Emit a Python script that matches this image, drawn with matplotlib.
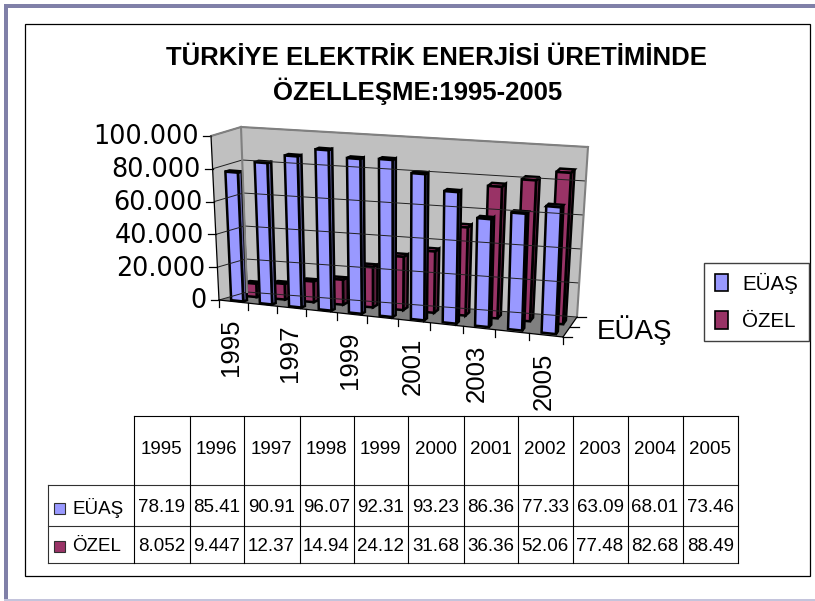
import matplotlib
matplotlib.use("Agg")
import matplotlib.pyplot as plt
from matplotlib.patches import Patch, Polygon, Rectangle

years = [1995, 1996, 1997, 1998, 1999, 2000, 2001, 2002, 2003, 2004, 2005]
euas = [78.19, 85.41, 90.91, 96.07, 92.31, 93.23, 86.36, 77.33, 63.09, 68.01, 73.46]
ozel = [8.052, 9.447, 12.37, 14.94, 24.12, 31.68, 36.36, 52.06, 77.48, 82.68, 88.49]
y_ticks = [0, 20, 40, 60, 80, 100]
y_labels = ["0", "20.000", "40.000", "60.000", "80.000", "100.000"]
series_names = ["EÜAŞ", "ÖZEL"]

SANS = ["Liberation Sans", "DejaVu Sans"]
BLUE, BLUE_SIDE = "#9999ff", "#5c5c99"
RED, RED_SIDE = "#993366", "#5c1f3d"

# corners of the 3d box in picture pixels: [x end][value end][depth end]
corners = {
    (0, 0, 0): (219, 300), (1, 0, 0): (563, 337),
    (0, 1, 0): (211, 136), (1, 1, 0): (570, 164),
    (0, 0, 1): (247, 292), (1, 0, 1): (577, 317),
    (0, 1, 1): (241, 127), (1, 1, 1): (588, 147),
}


def pt(i, val, z):
    # category position, value, depth (0 front, 1 back) -> picture position
    t = i / len(years)
    t = t / (t + 1.1 * (1 - t))
    v = val / 100.0
    px, py = 0, 0
    for a, wa in ((0, 1 - t), (1, t)):
        for b, wb in ((0, 1 - v), (1, v)):
            for c, wc in ((0, 1 - z), (1, z)):
                px += wa * wb * wc * corners[(a, b, c)][0]
                py += wa * wb * wc * corners[(a, b, c)][1]
    return px, py


def draw_bar(ax, i, val, z0, z1, col, side):
    x0, x1 = i + 0.33, i + 0.75
    style = dict(edgecolor="black", linewidth=1.8, joinstyle="miter")
    ax.add_patch(Polygon([pt(x1, 0, z0), pt(x1, 0, z1), pt(x1, val, z1), pt(x1, val, z0)],
                         facecolor=side, **style))
    ax.add_patch(Polygon([pt(x0, val, z0), pt(x1, val, z0), pt(x1, val, z1), pt(x0, val, z1)],
                         facecolor=col, **style))
    ax.add_patch(Polygon([pt(x0, 0, z0), pt(x1, 0, z0), pt(x1, val, z0), pt(x0, val, z0)],
                         facecolor=col, **style))


fig = plt.figure(figsize=(8.15, 6.01), dpi=100)
ax = fig.add_axes([0, 0, 1, 1])
ax.set_xlim(0, 815)
ax.set_ylim(601, 0)
ax.axis("off")

# slide decoration and chart frame
ax.add_patch(Rectangle((4, 4), 811, 4, facecolor="#8080a8", edgecolor="none"))
ax.add_patch(Rectangle((4, 4), 4, 597, facecolor="#8080a8", edgecolor="none"))
ax.add_patch(Rectangle((4, 599), 811, 2, facecolor="#c4c4dc", edgecolor="none"))
ax.add_patch(Rectangle((25, 24), 785, 552, facecolor="white", edgecolor="black", linewidth=0.9))

ax.text(436, 58, "TÜRKİYE ELEKTRİK ENERJİSİ ÜRETİMİNDE", ha="center", va="center",
        fontsize=18.5, fontweight="bold", family=SANS)
ax.text(417.5, 91, "ÖZELLEŞME:1995-2005", ha="center", va="center",
        fontsize=18.5, fontweight="bold", family=SANS)

# walls and floor
n = len(years)
ax.add_patch(Polygon([pt(0, 0, 0), pt(0, 100, 0), pt(0, 100, 1), pt(0, 0, 1)],
                     facecolor="#c0c0c0", edgecolor="none"))
ax.add_patch(Polygon([pt(0, 0, 1), pt(0, 100, 1), pt(n, 100, 1), pt(n, 0, 1)],
                     facecolor="#c0c0c0", edgecolor="none"))
ax.add_patch(Polygon([pt(0, 0, 0), pt(0, 0, 1), pt(n, 0, 1), pt(n, 0, 0)],
                     facecolor="#808080", edgecolor="none"))
for tick, lab in zip(y_ticks, y_labels):
    ax.plot(*zip(pt(0, tick, 0), pt(0, tick, 1), pt(n, tick, 1)), color="#202020", lw=0.7)
    x, y = pt(0, tick, 0)
    ax.plot([x - 8, x], [y, y], color="black", lw=0.9)
    ax.text(x - 12, y + 1.5, lab, ha="right", va="center", fontsize=18.4, family=["DejaVu Sans"])
for a, b in ((pt(0, 100, 0), pt(0, 100, 1)), (pt(0, 100, 1), pt(n, 100, 1)),
             (pt(n, 100, 1), pt(n, 0, 1)), (pt(0, 100, 1), pt(0, 0, 1))):
    ax.plot(*zip(a, b), color="#808080", lw=1.5)

# bars, back row first
for i in range(n):
    draw_bar(ax, i, ozel[i], 0.6, 0.8, RED, RED_SIDE)
for i in range(n):
    draw_bar(ax, i, euas[i], 0.1, 0.24, BLUE, BLUE_SIDE)

# axes lines
ax.plot(*zip(pt(0, 0, 0), pt(0, 100, 0)), color="black", lw=0.9)
ax.plot(*zip(pt(0, 0, 0), pt(n, 0, 0)), color="black", lw=0.9)
ax.plot(*zip(pt(n, 0, 0), pt(n, 0, 1)), color="black", lw=0.9)
for i in range(n + 1):
    x, y = pt(i, 0, 0)
    ax.plot([x, x], [y, y + 7], color="black", lw=0.9)
for i in range(0, n, 2):
    x, y = pt(i + 0.5, 0, 0)
    ax.text(x - 2, y + 17, str(years[i]), rotation=90, ha="center", va="top",
            fontsize=18.5, family=SANS)
for z in (0, 0.5, 1):
    x, y = pt(n, 0, z)
    ax.plot([x, x + 9], [y, y], color="black", lw=0.9)
ax.text(597, 330, "EÜAŞ", ha="left", va="center", fontsize=20, family=SANS)

# legend
handles = [Patch(facecolor=BLUE, edgecolor="black", linewidth=1.2),
           Patch(facecolor=RED, edgecolor="black", linewidth=1.2)]
leg = ax.legend(handles, series_names, loc="center", bbox_to_anchor=(756.5, 302),
                bbox_transform=ax.transData, fancybox=False, framealpha=1, edgecolor="#404040",
                prop={"family": SANS, "size": 14.8}, handlelength=0.65, handleheight=0.9,
                labelspacing=0.85, handletextpad=0.7, borderpad=0.5, borderaxespad=0)

# data table
col_x = [133.5, 189.5, 243.5, 299.5, 353.5, 407.5, 463.5, 518, 572.5, 627.5, 682.5, 738]
row_y = [416, 485, 526, 563]
ax.plot([col_x[0], col_x[-1]], [row_y[0], row_y[0]], color="black", lw=0.8)
for y in row_y[1:]:
    ax.plot([47.5, col_x[-1]], [y, y], color="#303030", lw=0.8)
ax.plot([47.5, 47.5], [row_y[1], row_y[3]], color="#303030", lw=0.8)
for x in col_x:
    ax.plot([x, x], [row_y[0], row_y[3]], color="black", lw=0.8)
for j, yr in enumerate(years):
    cx = (col_x[j] + col_x[j + 1]) / 2
    ax.text(cx, 449, str(yr), ha="center", va="center", fontsize=13.5, family=SANS)
    ax.text(cx, 507.5, f"{euas[j]:.4g}", ha="center", va="center", fontsize=13.5, family=SANS)
    ax.text(cx, 546.5, f"{ozel[j]:.4g}", ha="center", va="center", fontsize=13.5, family=SANS)
for name, col, y in zip(series_names, (BLUE, RED), (508.5, 546.5)):
    ax.add_patch(Rectangle((54, y - 5.5), 11, 11, facecolor=col, edgecolor="#303030", linewidth=0.8))
    ax.text(72, y, name, ha="left", va="center", fontsize=13.5, family=SANS)

fig.savefig("out.png", dpi=100)
